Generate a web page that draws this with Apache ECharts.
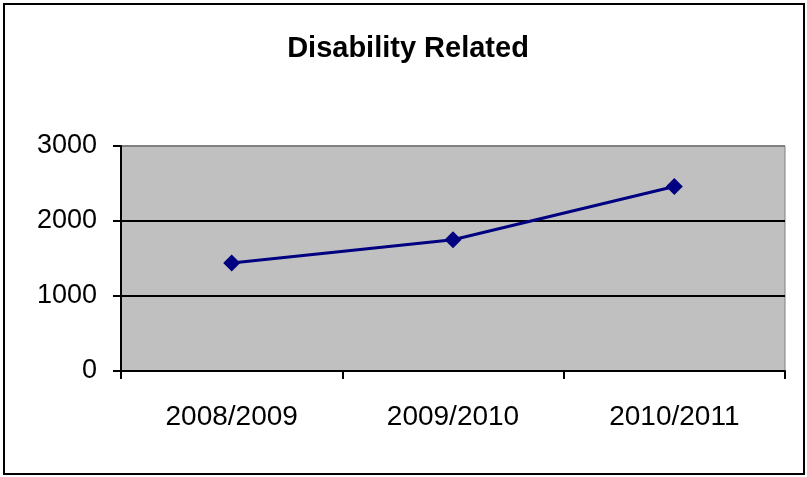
<!DOCTYPE html>
<html>
<head>
<meta charset="utf-8">
<script src="https://cdn.jsdelivr.net/npm/echarts@6/dist/echarts.min.js"></script>
<style>
html,body{margin:0;padding:0;background:#fff;}
#c{width:807px;height:477px;}
</style>
</head>
<body>
<div id="c"></div>
<script>
const title = 'Disability Related';
const categories = ['2008/2009', '2009/2010', '2010/2011'];
const values = [1440, 1750, 2460];
const yTicks = [0, 1000, 2000, 3000];

const chart = echarts.init(document.getElementById('c'), null, {renderer: 'canvas'});
chart.setOption({
  backgroundColor: '#ffffff',
  animation: false,
  title: {
    text: title,
    left: 403, top: 29, textAlign: 'center',
    textStyle: {fontFamily: 'Liberation Sans', fontWeight: 'bold', fontSize: 29, color: '#000'}
  },
  graphic: [{
    type: 'rect', shape: {x: 4, y: 4, width: 800, height: 470},
    style: {fill: 'none', stroke: '#000', lineWidth: 2}, silent: true, z: 100
  }],
  grid: {
    left: 121, right: 22, top: 146, bottom: 106,
    show: true, backgroundColor: '#C0C0C0', borderColor: '#808080', borderWidth: 1
  },
  xAxis: {
    type: 'category', data: categories, boundaryGap: true,
    axisLine: {lineStyle: {color: '#000', width: 2}},
    axisTick: {show: true, length: 8, inside: false, lineStyle: {color: '#000', width: 2}},
    axisLabel: {margin: 32, fontFamily: 'Liberation Sans', fontSize: 28, color: '#000'}
  },
  yAxis: {
    type: 'value', min: yTicks[0], max: yTicks[yTicks.length - 1], interval: 1000,
    axisLine: {show: true, lineStyle: {color: '#000', width: 2}},
    axisTick: {show: true, length: 8, lineStyle: {color: '#000', width: 2}},
    axisLabel: {margin: 24, fontFamily: 'Liberation Sans', fontSize: 27, color: '#000',
      formatter: v => String(v)},
    splitLine: {show: true, lineStyle: {color: ['#000', '#000', '#000', '#808080'], width: 2}}
  },
  series: [{
    type: 'line', data: values,
    symbol: 'diamond', symbolSize: 17,
    lineStyle: {color: '#000080', width: 3},
    itemStyle: {color: '#000080'}
  }]
});
</script>
</body>
</html>
